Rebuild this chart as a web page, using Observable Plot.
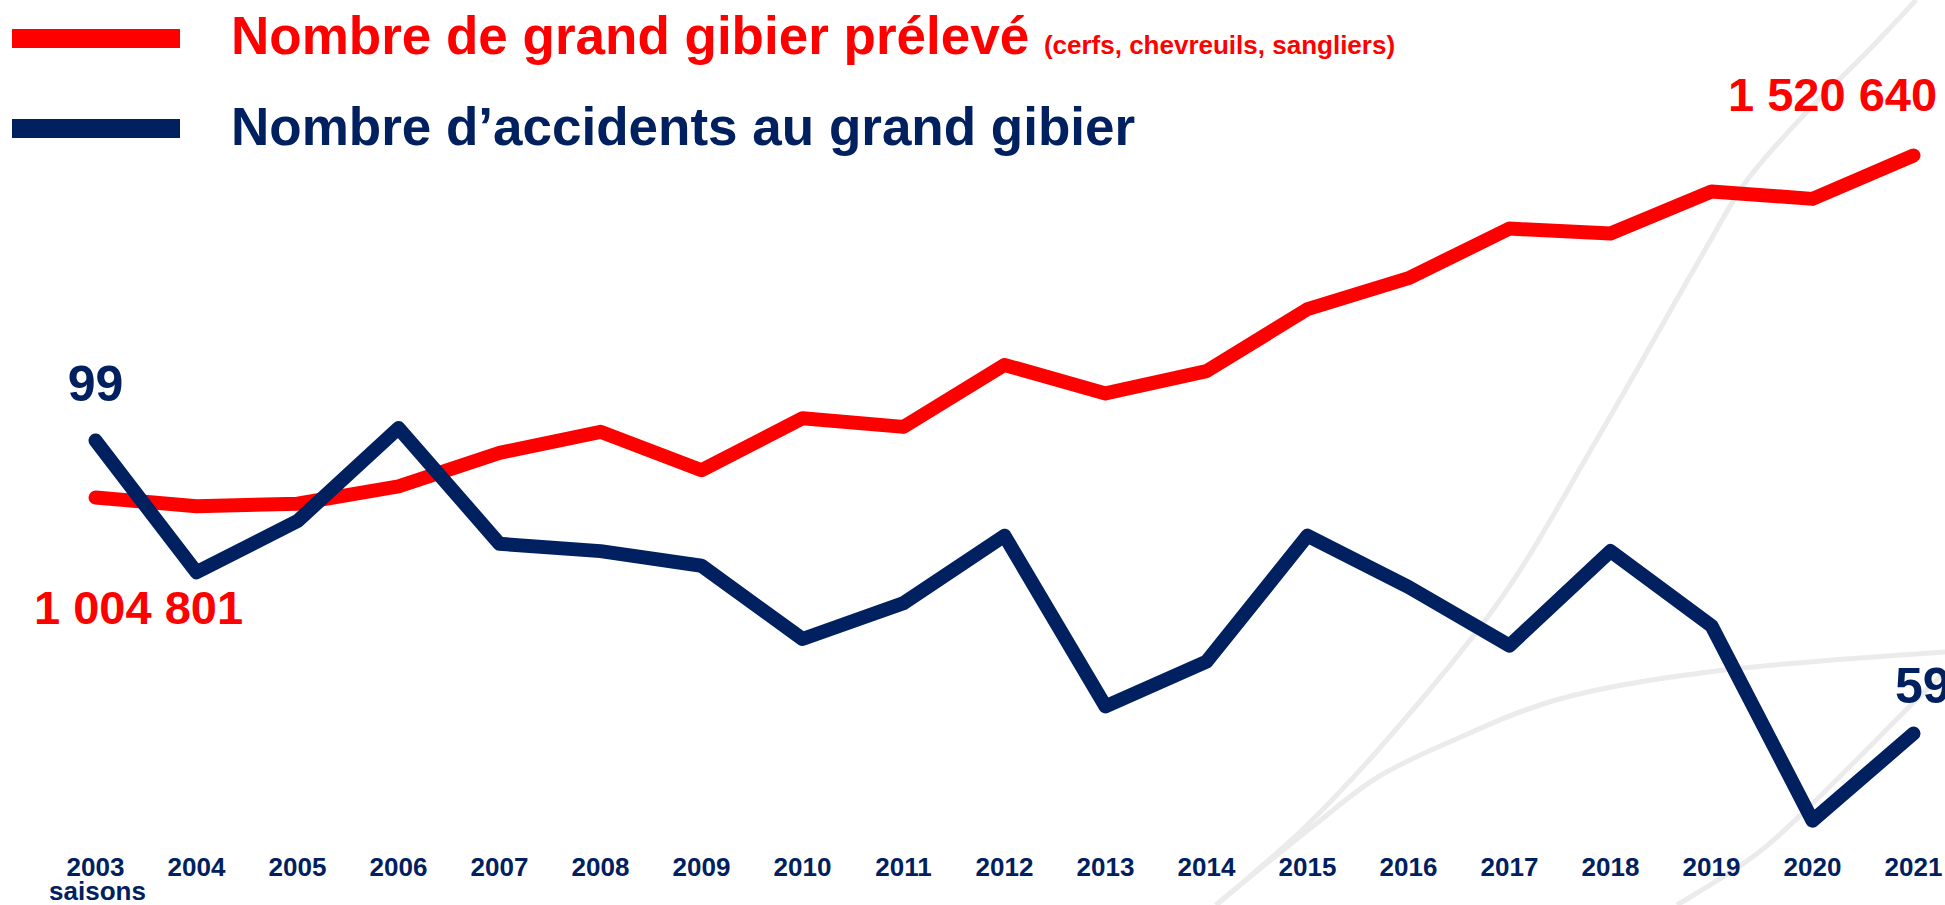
<!DOCTYPE html>
<html>
<head>
<meta charset="utf-8">
<script src="https://cdn.jsdelivr.net/npm/d3@7"></script>
<script src="https://cdn.jsdelivr.net/npm/@observablehq/plot@0.6"></script>
<style>
  html, body { margin: 0; padding: 0; background: #fff; }
  #wrap { position: relative; width: 1945px; height: 905px; overflow: hidden; background: #fff;
          font-family: "Liberation Sans", Arial, Helvetica, sans-serif; font-weight: bold; }
  .layer { position: absolute; left: 0; top: 0; }
  .sw { position: absolute; width: 168px; height: 19px; }
  .lt { position: absolute; line-height: 1; white-space: nowrap; }
</style>
</head>
<body>
<div id="wrap">
  <svg id="decor" class="layer" width="1945" height="905"></svg>
  <div id="redPlot" class="layer"></div>
  <div id="bluePlot" class="layer"></div>
  <div class="sw" style="left:12px; top:29px; background:#ff0000;"></div>
  <div class="lt" style="left:231px; top:9px; font-size:53px; color:#ff0000;">Nombre de grand gibier prélevé <span style="font-size:26px;">(cerfs, chevreuils, sangliers)</span></div>
  <div class="sw" style="left:12px; top:119px; background:#002060;"></div>
  <div class="lt" style="left:231px; top:100px; font-size:53px; color:#002060;">Nombre d’accidents au grand gibier</div>
</div>
<script>
// ---- Data ----
const years = [2003, 2004, 2005, 2006, 2007, 2008, 2009, 2010, 2011, 2012,
               2013, 2014, 2015, 2016, 2017, 2018, 2019, 2020, 2021];
// Nombre de grand gibier prélevé
const prelevements = [1004801, 991700, 995500, 1021600, 1072100, 1103900, 1045900, 1124400, 1111300, 1204800,
                      1161800, 1195400, 1288900, 1335600, 1410400, 1402900, 1466400, 1455200, 1520640];
// Nombre d'accidents au grand gibier (milliers)
const accidents = [99, 81.0, 88.0, 100.7, 84.9, 83.9, 81.9, 71.9, 76.8, 86.0,
                   62.7, 68.8, 86.0, 79.0, 71.0, 83.9, 73.7, 47.1, 59];
const axisNote = "saisons";

const RED = "#ff0000", NAVY = "#002060";
const FONT = "'Liberation Sans', Arial, Helvetica, sans-serif";

const redData = years.map((year, i) => ({year, value: prelevements[i]}));
const blueData = years.map((year, i) => ({year, value: accidents[i]}));
const frFormat = d3.formatLocale({decimal: ",", thousands: " ", grouping: [3], currency: ["", "€"]}).format(",d");

const common = {
  width: 1945, height: 905,
  marginLeft: 90.5, marginRight: 28.5, marginTop: 0, marginBottom: 48,
  style: {background: "transparent", fontFamily: FONT, fontWeight: "bold", overflow: "visible"}
};

// ---- Decorative background arcs (slide decoration, not data) ----
const arcs = [
  [[1916,0],[1869,50],[1802,117],[1745,183],[1705,250],[1600,434],[1500,600],[1378,750],[1302,830],[1216,905]],
  [[1945,652],[1708,672],[1556,700],[1454,740],[1378,777],[1312,827],[1216,905]],
  [[1945,672],[1916,700],[1809,807],[1758,853],[1677,905]]
];
const arcLine = d3.line().curve(d3.curveCatmullRom);
d3.select("#decor").selectAll("path").data(arcs).join("path")
  .attr("d", arcLine).attr("fill", "none").attr("stroke", "#ebebeb").attr("stroke-width", 5);

// ---- Red series ----
const redPlot = Plot.plot({
  ...common,
  x: {type: "point", domain: years, padding: 0, label: null, axis: null},
  y: {domain: [prelevements[0], prelevements[prelevements.length - 1]], range: [497, 155], axis: null},
  marks: [
    Plot.line(redData, {x: "year", y: "value", stroke: RED, strokeWidth: 14,
                        strokeLinecap: "round", strokeLinejoin: "round"}),
    Plot.text([redData[0]], {x: "year", y: "value", text: d => frFormat(d.value),
                             fill: RED, fontSize: 47, fontWeight: "bold", dx: 43, dy: 111}),
    Plot.text([redData[redData.length - 1]], {x: "year", y: "value", text: d => frFormat(d.value),
                             fill: RED, fontSize: 47, fontWeight: "bold", dx: -81, dy: -60})
  ]
});
document.getElementById("redPlot").appendChild(redPlot);

// ---- Blue series + x axis ----
const bluePlot = Plot.plot({
  ...common,
  x: {type: "point", domain: years, padding: 0, label: null},
  y: {domain: [accidents[accidents.length - 1], accidents[0]], range: [733, 440], axis: null},
  marks: [
    Plot.axisX({tickSize: 0, tickPadding: 0, fontSize: 26, fontWeight: "bold", fill: NAVY,
                tickFormat: d => String(d), label: null}),
    Plot.text([years[0]], {x: d => d, text: () => axisNote, frameAnchor: "bottom", lineAnchor: "middle",
                           fill: NAVY, fontSize: 26, fontWeight: "bold", dx: 2, dy: 34}),
    Plot.line(blueData, {x: "year", y: "value", stroke: NAVY, strokeWidth: 14,
                         strokeLinecap: "round", strokeLinejoin: "round"}),
    Plot.text([blueData[0]], {x: "year", y: "value", text: d => String(Math.round(d.value)),
                              fill: NAVY, fontSize: 50, fontWeight: "bold", dx: 0, dy: -56}),
    Plot.text([blueData[blueData.length - 1]], {x: "year", y: "value", text: d => String(Math.round(d.value)),
                              fill: NAVY, fontSize: 50, fontWeight: "bold", textAnchor: "start", dx: -18.5, dy: -47})
  ]
});
document.getElementById("bluePlot").appendChild(bluePlot);
</script>
</body>
</html>
